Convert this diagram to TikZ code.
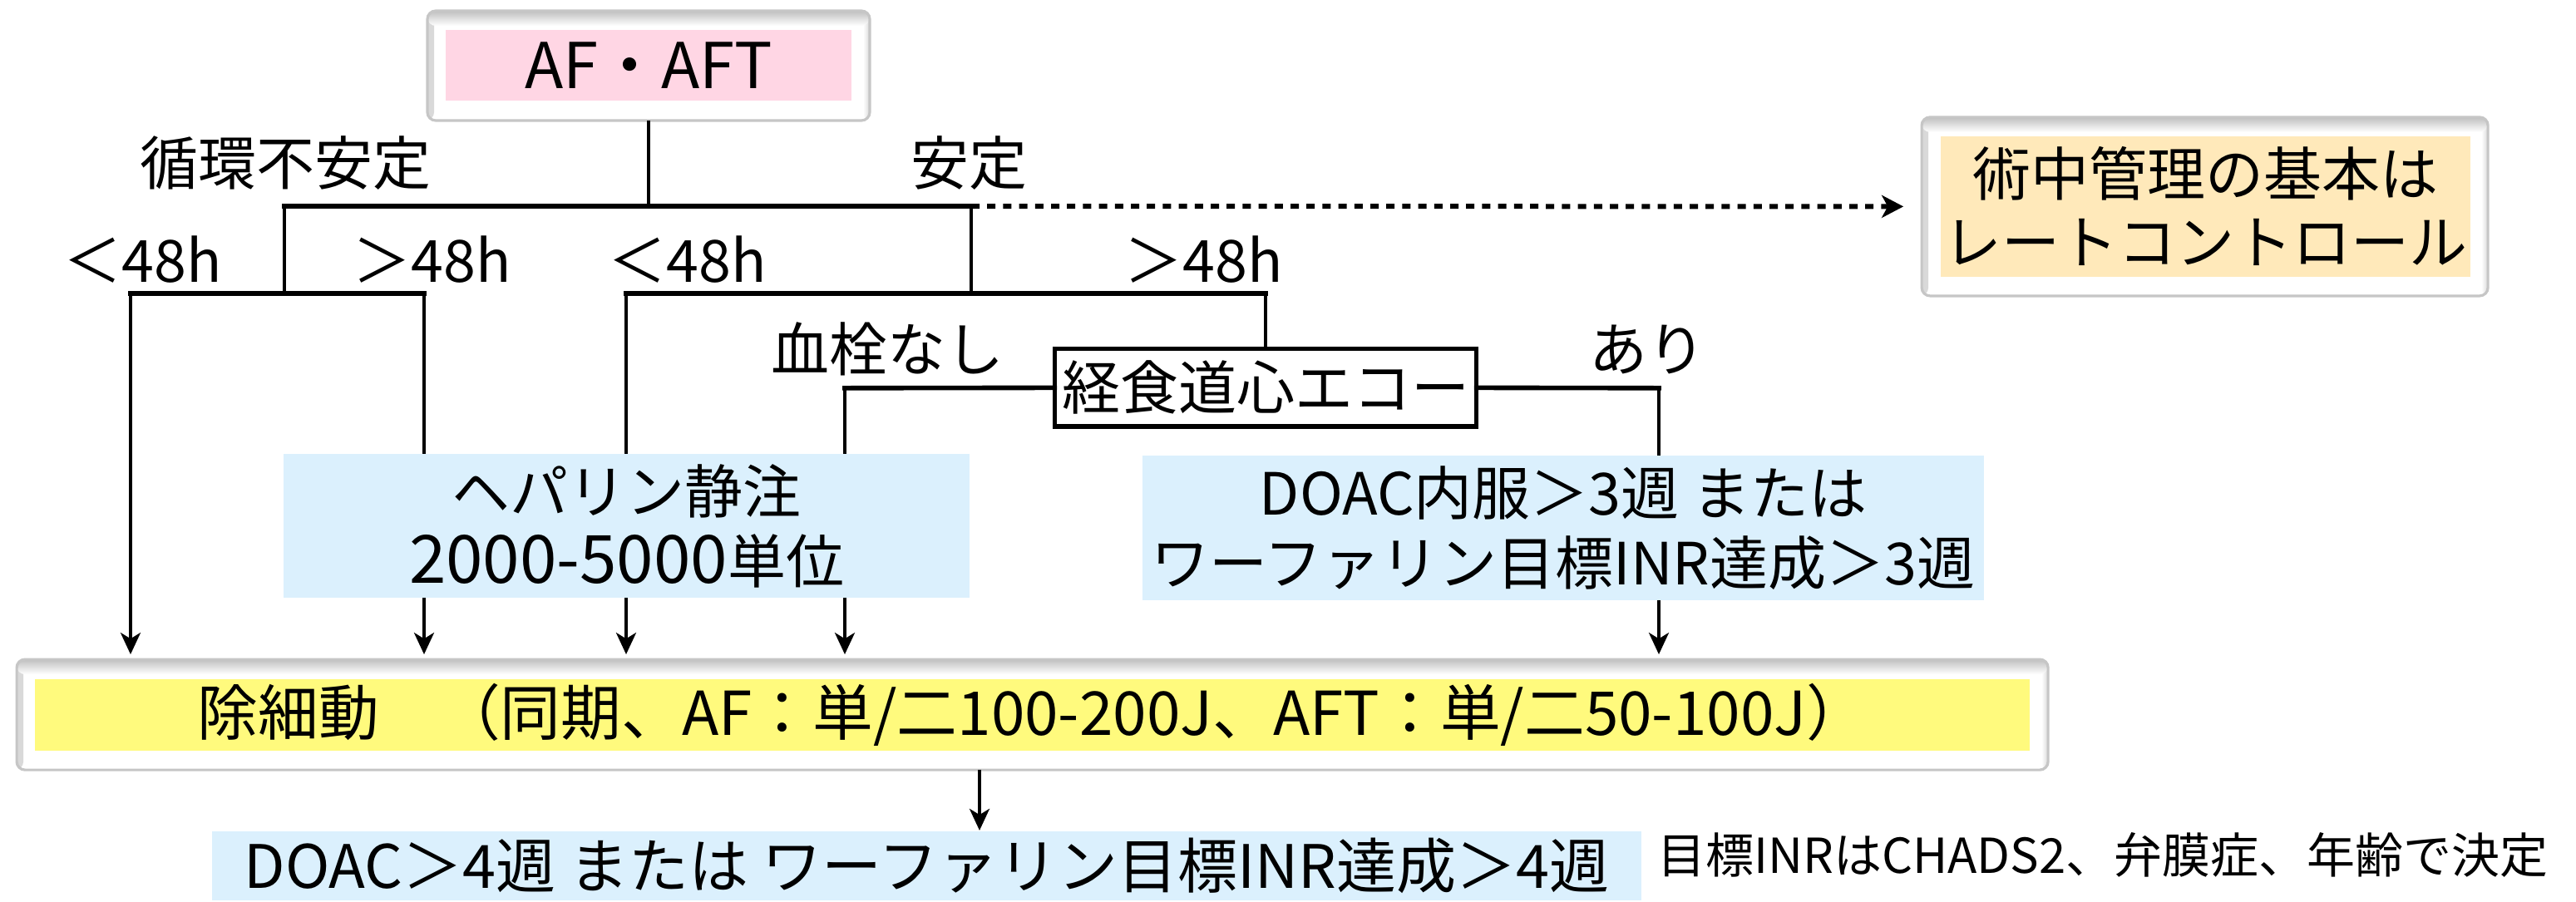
\documentclass[tikz,border=0pt]{standalone}
\usepackage{fontspec}
\setmainfont{Noto Sans CJK JP}
\usetikzlibrary{arrows.meta}
\definecolor{pinkfill}{RGB}{255,214,228}
\definecolor{orangefill}{RGB}{255,233,186}
\definecolor{bluefill}{RGB}{219,240,253}
\definecolor{yellowfill}{RGB}{255,250,125}
\begin{document}
\begin{tikzpicture}[x=1pt,y=-1pt,
  every node/.style={inner sep=0pt, outer sep=0pt, font=\fontsize{17.5pt}{21pt}\selectfont},
  outerbox/.style={draw=gray!45, line width=0.8pt, fill=white, rounded corners=2.5pt,
    path picture={
      \shade[left color=gray!30, right color=white] (path picture bounding box.north west) rectangle ([xshift=2pt]path picture bounding box.south west);
      \shade[right color=gray!30, left color=white] (path picture bounding box.north east) rectangle ([xshift=-2pt]path picture bounding box.south east);
      \shade[top color=gray!50, bottom color=white] (path picture bounding box.north west) rectangle ([yshift=-4.5pt]path picture bounding box.north east);}},
  colbox/.style={fill=#1, align=center},
  thinline/.style={line width=1pt},
  barline/.style={line width=1.4pt, line cap=rect},
  arr/.style={line width=1pt, -{Stealth[length=6.5pt,width=6pt,inset=1.8pt]}, shorten >=1.5pt},
  dotarrow/.style={line width=1.5pt, dash pattern=on 2.5pt off 2.3pt, -{Stealth[length=6.5pt,width=6.75pt,inset=1.8pt]}, shorten >=5.5pt}
]
\useasboundingbox (0,0) rectangle (774.5,271);

% boxes
\node[outerbox, minimum width=133pt, minimum height=33pt] (afout) at (195,19.75) {};
\node[colbox=pinkfill, minimum width=122pt, minimum height=21.25pt, font=\fontsize{19pt}{21pt}\selectfont] (af) at (195,19.6) {AF・AFT};

\node[outerbox, minimum width=170.25pt, minimum height=53.75pt] (rout) at (662.9,62.1) {};
\node[colbox=orangefill, minimum width=159.25pt, minimum height=42.25pt, font=\fontsize{17.5pt}{20.5pt}\selectfont] (rate) at (663.1,62.1) {術中管理の基本は\\レートコントロール};

\node[draw, line width=1.4pt, fill=white, minimum width=126.8pt, minimum height=23.4pt] (tee) at (380.5,116.6) {経食道心エコー};

\node[colbox=bluefill, minimum width=206.25pt, minimum height=43.25pt] (hep) at (188.4,158.1) {ヘパリン静注\\{\fontsize{20pt}{21pt}\selectfont 2000-5000}単位};
\node[colbox=bluefill, minimum width=253pt, minimum height=43.5pt] (doac) at (470,158.75) {DOAC内服＞3週 または\\ワーファリン目標INR達成＞3週};

\node[outerbox, minimum width=610.75pt, minimum height=33.25pt] (defout) at (310.4,214.9) {};
\node[colbox=yellowfill, minimum width=599.75pt, minimum height=21.5pt, font=\fontsize{18.2pt}{21pt}\selectfont] (defib) at (310.4,215) {除細動　（同期、AF：単/二100-200J、AFT：単/二50-100J）};

\node[colbox=bluefill, minimum width=429.75pt, minimum height=20.75pt, font=\fontsize{18pt}{21pt}\selectfont] (final) at (278.6,260.4) {DOAC＞4週 または ワーファリン目標INR達成＞4週};
\node[font=\fontsize{14.5pt}{16pt}\selectfont] (note) at (632.25,257) {目標INRはCHADS2、弁膜症、年齢で決定};

% labels
\node (unstable) at (85.75,49) {循環不安定};
\node (stable) at (291.3,49) {安定};
\node (lt1) at (43,78) {＜48h};
\node (gt1) at (130,78) {＞48h};
\node (lt2) at (206.75,78) {＜48h};
\node (gt2) at (362,78) {＞48h};
\node (nothr) at (266.75,105) {血栓なし};
\node (thr) at (495.25,105) {あり};

% junctions
\coordinate (j0) at (195,62);
\coordinate (jL) at (85.5,62);
\coordinate (jR) at (292,62);
\coordinate (jL2) at (85.5,88.25);
\coordinate (jR2) at (292,88.25);
\coordinate (b1) at (39.25,88.25);
\coordinate (b2) at (127.5,88.25);
\coordinate (b3) at (188.25,88.25);
\coordinate (b4) at (380.5,88.25);
\coordinate (cL) at (254,116.7);
\coordinate (cR) at (498.75,116.7);
\coordinate (dx) at (294.5,231.5);

% connectors
\draw[thinline] (afout.south) -- (j0);
\draw[barline] (jL) -- (jR);
\draw[dotarrow] (jR) -- (rout.west);
\draw[thinline] (jL) -- (jL2);
\draw[thinline] (jR) -- (jR2);
\draw[barline] (b1) -- (b2);
\draw[barline] (b3) -- (b4);

\draw[arr] (b1) -- (b1 |- defout.north);
\draw[thinline] (b2) -- (b2 |- hep.north);
\draw[arr] (b2 |- hep.south) -- (b2 |- defout.north);
\draw[thinline] (b3) -- (b3 |- hep.north);
\draw[arr] (b3 |- hep.south) -- (b3 |- defout.north);

\draw[thinline] (b4) -- (tee.north);
\draw[barline] (tee.west) -- (cL);
\draw[thinline] (cL) -- (cL |- hep.north);
\draw[arr] (cL |- hep.south) -- (cL |- defout.north);
\draw[barline] (tee.east) -- (cR);
\draw[thinline] (cR) -- (cR |- doac.north);
\draw[arr] (cR |- doac.south) -- (cR |- defout.north);

\draw[arr, shorten >=0.3pt] (defout.south -| dx) -- (dx |- final.north);
\end{tikzpicture}
\end{document}
